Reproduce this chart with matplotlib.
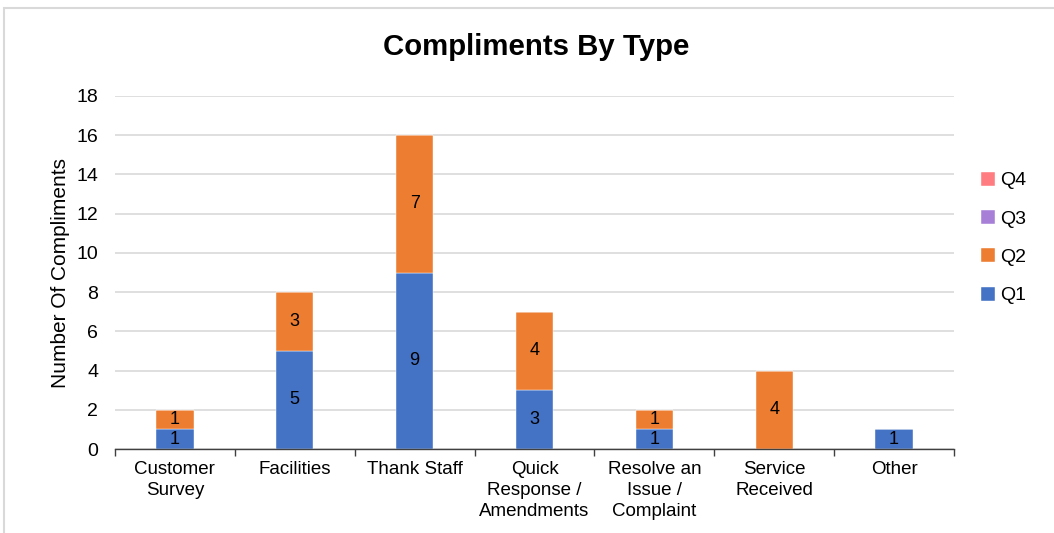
import numpy as np
import matplotlib
matplotlib.use("Agg")
import matplotlib.pyplot as plt
from matplotlib.patches import Rectangle

plt.rcParams["font.family"] = ["Liberation Sans", "DejaVu Sans"]

categorias = ["Customer\nSurvey", "Facilities", "Thank Staff", "Quick\nResponse /\nAmendments",
              "Resolve an\nIssue /\nComplaint", "Service\nReceived", "Other"]
q1 = [1, 5, 9, 3, 1, 0, 1]
q2 = [1, 3, 7, 4, 1, 4, 0]
q3 = [0, 0, 0, 0, 0, 0, 0]
q4 = [0, 0, 0, 0, 0, 0, 0]
y_ticks = [0, 2, 4, 6, 8, 10, 12, 14, 16, 18]

series = [("Q1", q1, "#4472C4"), ("Q2", q2, "#ED7D31"), ("Q3", q3, "#A77FD7"), ("Q4", q4, "#FF7C80")]

fig = plt.figure(figsize=(10.54, 5.33), dpi=100)
ax = fig.add_axes([115 / 1054, 1 - 449 / 533, 839 / 1054, 353 / 533])

# marco gris del grafico
fig.patches.append(Rectangle((4 / 1054, -0.1), 1.2, 1 - 8 / 533 + 0.1, transform=fig.transFigure,
                             fill=False, edgecolor="#D9D9D9", linewidth=1.5))

x = np.arange(len(categorias))
base = np.zeros(len(categorias))
barras = {}
for nombre, valores, color in series:
    valores = np.array(valores, dtype=float)
    b = ax.bar(x, valores, width=0.31, bottom=base, color=color, edgecolor="#FFFFFF",
               linewidth=0.3, label=nombre, zorder=3)
    for xi, v, bo in zip(x, valores, base):
        if v > 0:
            ax.text(xi, bo + v / 2, f"{int(v)}", ha="center", va="center", fontsize=13,
                    color="#000000", zorder=4)
    barras[nombre] = b
    base = base + valores

ax.set_xlim(-0.5, len(categorias) - 0.5)
ax.set_ylim(0, 18)
ax.set_yticks(y_ticks)
ax.set_yticklabels([str(t) for t in y_ticks], fontsize=14)
ax.set_xticks(x)
ax.set_xticklabels(categorias, fontsize=13.5, linespacing=1.3)
ax.set_xticks(np.arange(-0.5, len(categorias)), minor=True)
ax.tick_params(axis="x", which="major", length=0, pad=9)
ax.tick_params(axis="x", which="minor", length=5, width=1, color="#404040", direction="out")
ax.tick_params(axis="y", length=0, pad=12)

ax.grid(axis="y", color="#D9D9D9", linewidth=1.2, zorder=0)
for s in ["top", "right", "left"]:
    ax.spines[s].set_visible(False)
ax.spines["bottom"].set_color("#404040")
ax.spines["bottom"].set_linewidth(1)
ax.spines["bottom"].set_zorder(5)

ax.set_ylabel("Number Of Compliments", fontsize=15, labelpad=5)
fig.text(536 / 1054, 1 - 47 / 533, "Compliments By Type", ha="center", va="center",
         fontsize=21.2, fontweight="bold")

handles = [barras["Q4"], barras["Q3"], barras["Q2"], barras["Q1"]]
fig.legend(handles, ["Q4", "Q3", "Q2", "Q1"], loc="center left",
           bbox_to_anchor=(963 / 1054, 1 - 238 / 533), frameon=False, fontsize=14,
           handlelength=0.75, handleheight=0.75, handletextpad=0.25, labelspacing=1.05)

fig.savefig("out.png", dpi=100)
